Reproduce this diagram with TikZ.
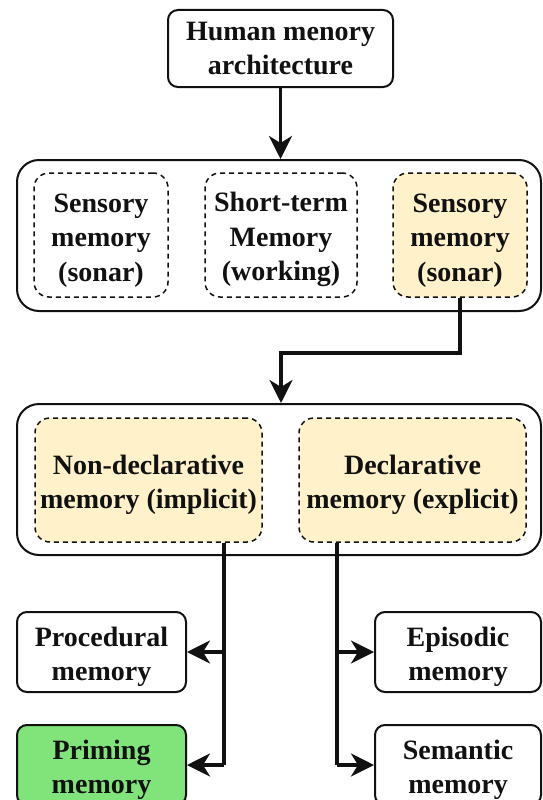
\documentclass[tikz,border=0pt]{standalone}
\usepackage{fontspec}
\setmainfont{Liberation Serif}
\usetikzlibrary{arrows.meta,calc}

\definecolor{paleyellow}{RGB}{255,241,202}
\definecolor{brightgreen}{RGB}{128,228,122}
\definecolor{ink}{RGB}{17,17,17}

% invisible strut on the first line lowers a text block by about 5pt
\newcommand{\lowered}{\rule{0pt}{29pt}}

\tikzset{
  label text/.style={font=\bfseries\fontsize{28}{34.5}\selectfont, text=ink, align=center, inner sep=0pt},
  toplevel/.style={label text, draw=ink, line width=2pt, rounded corners=10pt},
  container/.style={draw=ink, line width=2pt, rounded corners=22pt},
  groupbox/.style={label text, draw=ink, line width=1.5pt, dash pattern=on 5pt off 4pt, rounded corners=15pt},
  leafbox/.style={label text, draw=ink, line width=2pt, rounded corners=10pt, fill=white},
  link/.style={draw=ink, line width=3.5pt},
  arr/.style={link, -{Stealth[length=23pt, width=23pt, inset=7pt]}},
}

\begin{document}
\begin{tikzpicture}[x=1pt, y=-1pt]
  \useasboundingbox (0,0) rectangle (542,800);
  \fill[white] (0,0) rectangle (542,800);
  \clip (0,0) rectangle (542,800);

  % root
  \node[toplevel, minimum width=225pt, minimum height=77pt] (top) at (280.5,48.5) {Human menory\\architecture};

  % first level: stores
  \node[container, minimum width=524pt, minimum height=151pt] (c1) at (279,235.5) {};
  \node[groupbox, minimum width=134pt, minimum height=124pt] (s1) at (101,235) {\lowered Sensory\\memory\\(sonar)};
  \node[groupbox, minimum width=152pt, minimum height=124pt] (s2) at (281,235) {\lowered Short-term\\Memory\\(working)};
  \node[groupbox, fill=paleyellow, minimum width=134pt, minimum height=124pt] (s3) at (460,235) {\lowered Sensory\\memory\\(sonar)};

  % second level: long-term split
  \node[container, minimum width=524pt, minimum height=151pt] (c2) at (279,479.5) {};
  \node[groupbox, fill=paleyellow, minimum width=227pt, minimum height=124pt] (nd) at (148.5,480) {\lowered Non-declarative\\memory (implicit)};
  \node[groupbox, fill=paleyellow, minimum width=227pt, minimum height=124pt] (dc) at (412.5,480) {\lowered Declarative\\memory (explicit)};

  % leaves
  \node[leafbox, minimum width=169pt, minimum height=80pt] (proc) at (101.5,652) {\lowered Procedural\\memory};
  \node[leafbox, fill=brightgreen, minimum width=169pt, minimum height=80pt] (prim) at (101.5,765) {\lowered Priming\\memory};
  \node[leafbox, minimum width=166pt, minimum height=80pt] (epi) at (458,652) {\lowered Episodic\\memory};
  \node[leafbox, minimum width=166pt, minimum height=80pt] (sem) at (458,765) {\lowered Semantic\\memory};

  % connectors
  \draw[arr] (top.south) -- (top.south |- c1.north);

  \coordinate (bend) at (281,353);
  \draw[arr] (s3.south) |- (bend) -- (bend |- c2.north);

  \coordinate (trunkL) at (224,0);
  \coordinate (trunkR) at (337,0);
  \draw[link] (nd.south -| trunkL) -- (trunkL |- prim.east);
  \draw[arr] (trunkL |- proc.east) -- (proc.east);
  \draw[arr] (trunkL |- prim.east) -- (prim.east);
  \draw[link] (dc.south -| trunkR) -- (trunkR |- sem.west);
  \draw[arr] (trunkR |- epi.west) -- (epi.west);
  \draw[arr] (trunkR |- sem.west) -- (sem.west);
\end{tikzpicture}
\end{document}
